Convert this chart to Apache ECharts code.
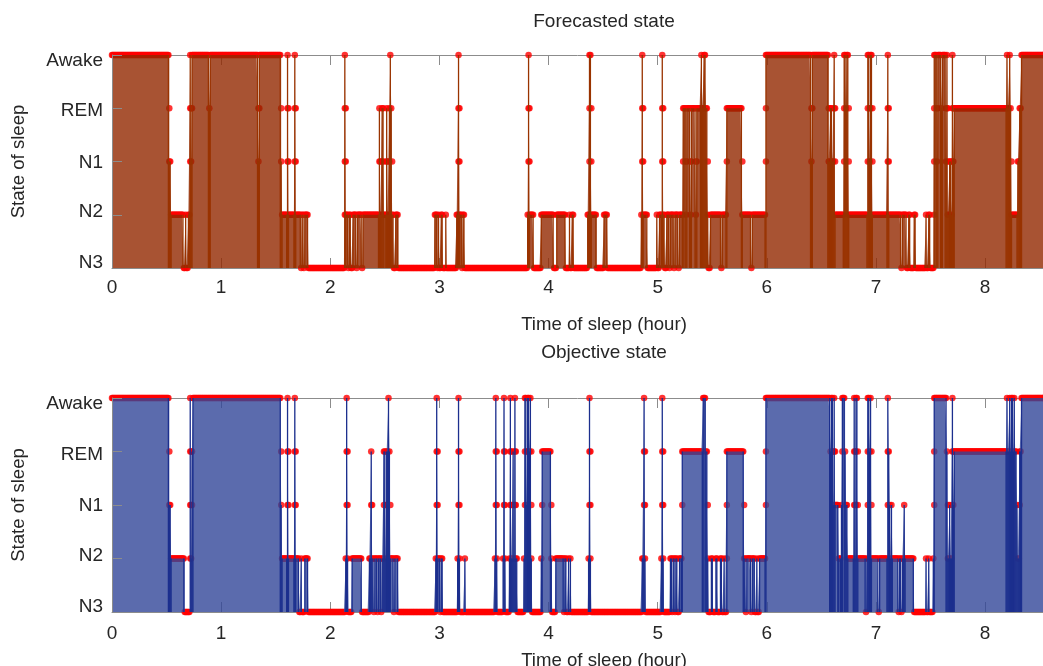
<!DOCTYPE html>
<html>
<head>
<meta charset="utf-8">
<title>Sleep state</title>
<script src="https://cdn.jsdelivr.net/npm/echarts@6/dist/echarts.min.js"></script>
<style>
html,body{margin:0;padding:0;background:#fff;}
#main{width:1043px;height:666px;}
</style>
</head>
<body>
<div id="main"></div>
<script>
var stateNames = ['N3', 'N2', 'N1', 'REM', 'Awake'];
var epochHours = 1 / 120; // one epoch = 30 s
var endHour = 8.54;
var xTicks = [0, 1, 2, 3, 4, 5, 6, 7, 8];

// forecasted state: hour where each run starts, and its state (0=N3 ... 4=Awake)
var fcStart = [0, 0.527, 0.545, 0.655, 0.675, 0.683, 0.70, 0.717, 0.725, 0.733, 0.89, 0.898, 1.345, 1.353,
  1.553, 1.562, 1.61, 1.618, 1.675, 1.683, 1.73, 1.745, 1.755, 1.77, 1.80,
  2.135, 2.143, 2.165, 2.175, 2.19, 2.205, 2.24, 2.25, 2.29, 2.30, 2.45, 2.458, 2.475, 2.49, 2.52, 2.528,
  2.545, 2.553, 2.562, 2.57, 2.585, 2.60, 2.625,
  2.955, 2.98, 2.99, 3.0, 3.02, 3.03, 3.06, 3.07, 3.16, 3.178, 3.187, 3.205, 3.215, 3.235,
  3.805, 3.82, 3.828, 3.865, 3.935, 4.05, 4.075, 4.16, 4.19, 4.2, 4.22, 4.23,
  4.36, 4.375, 4.392, 4.44, 4.51, 4.54, 4.85, 4.86, 4.868, 4.91,
  4.99, 5.0, 5.02, 5.04, 5.048, 5.07, 5.08, 5.11, 5.12, 5.15, 5.16, 5.19, 5.20,
  5.235, 5.26, 5.27, 5.30, 5.31, 5.35, 5.36, 5.40, 5.41, 5.425, 5.445, 5.455, 5.465, 5.48,
  5.585, 5.593, 5.635, 5.775, 5.855, 5.863, 5.995, 6.405, 6.413,
  6.57, 6.585, 6.60, 6.615, 6.623, 6.705, 6.725, 6.733, 6.75, 6.925, 6.94, 6.948, 6.965,
  7.11, 7.118, 7.23, 7.238, 7.28, 7.30, 7.32, 7.35, 7.365, 7.455, 7.465, 7.48, 7.50,
  7.53, 7.56, 7.568, 7.60, 7.608, 7.64, 7.648, 7.66, 7.675, 7.69, 7.70, 7.708, 7.72,
  8.20, 8.21, 8.222, 8.232, 8.245, 8.30, 8.315, 8.33];
var fcState = [4, 2, 1, 0, 1, 0, 1, 4, 2, 4, 3, 4, 2, 4,
  2, 1, 4, 1, 4, 1, 0, 1, 0, 1, 0,
  4, 1, 0, 1, 0, 1, 0, 1, 0, 1, 3, 1, 3, 1, 3, 1,
  3, 4, 3, 1, 0, 1, 0,
  1, 0, 1, 0, 1, 0, 1, 0, 1, 4, 1, 0, 1, 0,
  1, 4, 1, 0, 1, 0, 1, 0, 1, 0, 1, 0,
  1, 4, 1, 0, 1, 0, 1, 4, 1, 0,
  1, 0, 1, 4, 1, 0, 1, 0, 1, 0, 1, 0, 1,
  3, 1, 3, 1, 3, 1, 3, 4, 3, 4, 3, 1, 0, 1,
  0, 1, 3, 1, 0, 1, 4, 2, 4,
  2, 3, 2, 4, 1, 4, 3, 4, 1, 4, 2, 4, 1,
  4, 1, 0, 1, 0, 1, 0, 1, 0, 1, 0, 1, 0,
  4, 2, 4, 3, 4, 2, 4, 1, 2, 1, 4, 2, 3,
  4, 3, 4, 3, 1, 2, 3, 4];

// objective state
var objStart = [0, 0.527, 0.545, 0.665, 0.715, 0.723, 0.733, 0.742, 1.548, 1.557, 1.612, 1.62, 1.672, 1.68,
  1.715, 1.735, 1.745, 1.765, 1.80,
  2.138, 2.145, 2.153, 2.165, 2.20, 2.29, 2.36, 2.375, 2.383, 2.40, 2.41, 2.43, 2.44, 2.465, 2.475,
  2.495, 2.505, 2.515, 2.53, 2.538, 2.546, 2.58, 2.59, 2.625,
  2.965, 2.978, 2.986, 3.01, 3.02, 3.03, 3.17, 3.178, 3.186, 3.195, 3.23, 3.238,
  3.505, 3.513, 3.521, 3.535, 3.583, 3.592, 3.60, 3.61,
  3.645, 3.652, 3.66, 3.675, 3.683, 3.695, 3.703, 3.715,
  3.775, 3.785, 3.80, 3.81, 3.825, 3.833, 3.842, 3.85,
  3.935, 3.943, 4.025, 4.035, 4.065, 4.14, 4.15, 4.165, 4.18, 4.19, 4.198, 4.205,
  4.37, 4.377, 4.385, 4.395, 4.855, 4.872, 4.88, 4.89, 5.035, 5.042, 5.05, 5.06,
  5.12, 5.13, 5.145, 5.155, 5.17, 5.18, 5.20, 5.225, 5.415, 5.445, 5.455,
  5.47, 5.49, 5.51, 5.53, 5.55, 5.575, 5.59, 5.605, 5.615, 5.635, 5.79,
  5.81, 5.82, 5.86, 5.87, 5.895, 5.905, 5.92, 5.93, 5.99,
  6.585, 6.595, 6.605, 6.62, 6.628, 6.66, 6.68, 6.69, 6.715, 6.725, 6.74,
  6.80, 6.808, 6.82, 6.83, 6.905, 6.913, 6.925, 6.94, 6.948, 6.96, 7.025, 7.033,
  7.11, 7.118, 7.126, 7.135, 7.145, 7.153, 7.205, 7.215, 7.23, 7.24, 7.255, 7.263,
  7.35, 7.46, 7.47, 7.485, 7.495, 7.525, 7.535, 7.65, 7.66, 7.675, 7.685, 7.70, 7.708, 7.715,
  8.20, 8.212, 8.222, 8.232, 8.245, 8.255, 8.265, 8.273, 8.29, 8.30, 8.32, 8.335];
var objState = [4, 2, 1, 0, 4, 1, 3, 4, 2, 1, 4, 1, 4, 1,
  0, 1, 0, 1, 0,
  1, 4, 1, 0, 1, 0, 1, 3, 1, 0, 1, 0, 1, 0, 1,
  3, 1, 3, 4, 3, 1, 0, 1, 0,
  1, 4, 1, 0, 1, 0, 1, 4, 1, 0, 1, 0,
  1, 4, 1, 0, 1, 4, 1, 0,
  1, 4, 1, 3, 1, 4, 1, 0,
  1, 4, 2, 4, 3, 4, 1, 0,
  1, 3, 1, 0, 1, 0, 1, 0, 1, 0, 1, 0,
  1, 4, 1, 0, 1, 4, 1, 0, 1, 4, 1, 0,
  1, 0, 1, 0, 1, 0, 1, 3, 4, 3, 1,
  0, 1, 0, 1, 0, 1, 0, 1, 0, 3, 1,
  0, 1, 0, 1, 0, 1, 0, 1, 4,
  3, 4, 2, 4, 2, 1, 2, 4, 3, 2, 1,
  4, 1, 4, 1, 0, 1, 4, 3, 4, 1, 0, 1,
  4, 3, 2, 1, 2, 1, 0, 1, 0, 1, 2, 1,
  0, 1, 0, 1, 0, 1, 4, 3, 1, 2, 1, 4, 2, 3,
  4, 3, 4, 3, 4, 3, 4, 3, 2, 1, 3, 4];

var fontName = "'Liberation Sans', Arial, sans-serif";
var textColor = '#262626';
var axisColor = '#8c8c8c';
var xMax = 8.53;

// run starts -> one value per 30 s epoch
function toEpochs(starts, states) {
  var n = Math.round(endHour / epochHours);
  var idx = [], prev = -1, out = [];
  for (var k = 0; k < starts.length; k++) {
    var i = Math.max(Math.round(starts[k] / epochHours), prev + 1);
    idx.push(i);
    prev = i;
  }
  for (var k = 0; k < idx.length; k++) {
    var to = k + 1 < idx.length ? idx[k + 1] : n;
    for (var i = idx[k]; i < to; i++) out.push([i * epochHours, states[k]]);
  }
  return out;
}
// red markers: one per epoch, plus the levels crossed on a jump
function dotsOf(ep) {
  var d = [];
  for (var i = 0; i < ep.length; i++) {
    var v = ep[i][1];
    if (i > 0 && ep[i - 1][1] !== v) {
      var p = ep[i - 1][1], s = v > p ? 1 : -1;
      for (var l = p + s; l !== v; l += s) d.push([ep[i][0], l]);
    }
    d.push(ep[i]);
  }
  return d;
}
// dark stems where the state changes
function edgesOf(ep) {
  var e = [];
  for (var i = 0; i < ep.length; i++) {
    var v = ep[i][1];
    var a = i > 0 ? ep[i - 1][1] : v, b = i < ep.length - 1 ? ep[i + 1][1] : v;
    if ((a !== v || b !== v) && v > 0) e.push(ep[i]);
  }
  return e;
}
function stemItem(color) {
  return function (params, api) {
    var top = api.coord([api.value(0), api.value(1)]);
    var base = api.coord([api.value(0), 0]);
    return {type: 'line', shape: {x1: top[0], y1: top[1], x2: base[0], y2: base[1]},
      style: {stroke: color, lineWidth: 1.3}};
  };
}

var fcEp = toEpochs(fcStart, fcState);
var objEp = toEpochs(objStart, objState);

function xAxisOf(g, margin) {
  return {
    gridIndex: g, type: 'value', min: 0, max: xMax, interval: 1,
    axisLine: {lineStyle: {color: axisColor}},
    axisTick: {inside: true, length: 10, lineStyle: {color: axisColor}},
    axisLabel: {color: textColor, fontSize: 19, fontFamily: fontName, margin: margin, showMaxLabel: false,
      formatter: function (v) { return xTicks.indexOf(v) >= 0 ? String(v) : ''; }},
    splitLine: {show: false}
  };
}
function topAxisOf(g) {
  return {
    gridIndex: g, type: 'value', position: 'top', min: 0, max: xMax, interval: 1,
    axisLine: {lineStyle: {color: axisColor}},
    axisTick: {inside: true, length: 10, lineStyle: {color: axisColor}},
    axisLabel: {show: false}, splitLine: {show: false}
  };
}
// labels sit a bit inside the end ticks, as in the picture
var labelRich = {
  s4: {padding: [12, 0, 0, 0]}, s3: {padding: [6, 0, 0, 0]}, s2: {padding: [2, 0, 0, 0]},
  s1: {padding: [0, 0, 6, 0]}, s0: {padding: [0, 0, 10, 0]}
};
function yAxisOf(g) {
  return {
    gridIndex: g, type: 'value', min: 0, max: 4, interval: 1, z: 10,
    axisLine: {show: true, lineStyle: {color: axisColor}},
    axisTick: {show: true, inside: true, length: 10, lineStyle: {color: axisColor}},
    axisLabel: {color: textColor, fontSize: 19, fontFamily: fontName, margin: 9, rich: labelRich,
      formatter: function (v) { return '{s' + v + '|' + stateNames[v] + '}'; }},
    splitLine: {show: false},
    name: 'State of sleep', nameLocation: 'middle', nameGap: 84, nameRotate: 90,
    nameTextStyle: {color: textColor, fontSize: 18.6, fontFamily: fontName}
  };
}
function panelSeries(ep, xi, yi, fill, edge) {
  return [
    {type: 'scatter', xAxisIndex: xi, yAxisIndex: yi, data: dotsOf(ep), symbolSize: 6.5, clip: false,
      itemStyle: {color: '#ff0000'}, z: 2, silent: true},
    {type: 'line', xAxisIndex: xi, yAxisIndex: yi, data: ep, step: 'end', showSymbol: false,
      lineStyle: {width: 0}, areaStyle: {color: fill, opacity: 1}, z: 3, silent: true},
    {type: 'custom', xAxisIndex: xi, yAxisIndex: yi, data: edgesOf(ep), renderItem: stemItem(edge),
      encode: {x: 0, y: 1}, z: 4, silent: true}
  ];
}
function textOf(txt, top, size) {
  return {text: txt, left: 599, top: top, textAlign: 'center',
    textStyle: {color: textColor, fontSize: size, fontWeight: 'normal', fontFamily: fontName}};
}

var myChart = echarts.init(document.getElementById('main'));
var option = {
  animation: false,
  backgroundColor: '#fff',
  title: [
    textOf('Forecasted state', 7, 19),
    textOf('Time of sleep (hour)', 310, 18.6),
    textOf('Objective state', 338, 19),
    textOf('Time of sleep (hour)', 646, 18.6)
  ],
  grid: [
    {left: 112, top: 55, right: 0, height: 213},
    {left: 112, top: 398, right: 0, height: 214}
  ],
  xAxis: [xAxisOf(0, 10), topAxisOf(0), xAxisOf(1, 12), topAxisOf(1)],
  yAxis: [yAxisOf(0), yAxisOf(1)],
  series: panelSeries(fcEp, 0, 0, 'rgba(146,40,0,0.8)', '#993300')
    .concat(panelSeries(objEp, 2, 1, 'rgba(50,70,153,0.8)', '#1c2f8e'))
};
myChart.setOption(option);
</script>
</body>
</html>
